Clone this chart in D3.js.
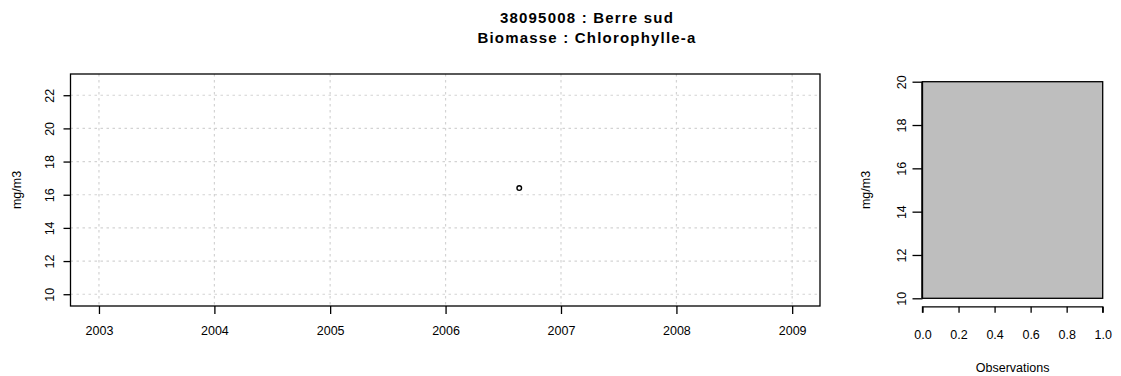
<!DOCTYPE html>
<html>
<head>
<meta charset="utf-8">
<script src="https://cdn.jsdelivr.net/npm/d3@7"></script>
<style>
  html, body { margin: 0; padding: 0; background: #fff; }
  svg { display: block; font-family: "Liberation Sans", Arial, sans-serif; }
</style>
</head>
<body>
<svg id="chart" width="1121" height="376"></svg>
<script>
// Station and parameter
const titleLines = ["38095008 : Berre sud", "Biomasse : Chlorophylle-a"];
const unitLabel = "mg/m3";

// Time series observations
const obsDates = ["2006-08-22"];
const obsValues = [16.4];

// Axis ticks
const yearTicks = [2003, 2004, 2005, 2006, 2007, 2008, 2009];
const seriesYTicks = [10, 12, 14, 16, 18, 20, 22];
const histYTicks = [10, 12, 14, 16, 18, 20];
const histXTicks = [0, 0.2, 0.4, 0.6, 0.8, 1.0];

// Side panel: observation frequency bar
const histBins = [{ lo: 10, hi: 20, frac: 1.0 }];

const FS = 12.5;
const svg = d3.select("#chart");
const parse = d3.timeParse("%Y-%m-%d");

// ---------- Title ----------
svg.selectAll("text.title").data(titleLines).join("text")
  .attr("class", "title")
  .attr("x", 587).attr("y", (d, i) => 23 + i * 20)
  .attr("text-anchor", "middle")
  .attr("font-size", 15).attr("font-weight", "bold")
  .attr("letter-spacing", 1.2)
  .text(d => d);

// ---------- Time series panel ----------
const L = { left: 70.5, right: 820, top: 74, bottom: 306 };
const x = d3.scaleTime()
  .domain([new Date(2002, 9, 3), new Date(2009, 2, 30)])
  .range([L.left, L.right]);
const y = d3.scaleLinear().domain([9.29, 23.28]).range([L.bottom, L.top]);

const grid = svg.append("g").attr("stroke", "#d3d3d3").attr("stroke-dasharray", "2.5,3.5").attr("stroke-width", 1.2);
grid.selectAll("line.v").data(yearTicks).join("line")
  .attr("x1", d => x(new Date(d, 0, 1))).attr("x2", d => x(new Date(d, 0, 1)))
  .attr("y1", L.top).attr("y2", L.bottom);
grid.selectAll("line.h").data(seriesYTicks).join("line")
  .attr("x1", L.left).attr("x2", L.right)
  .attr("y1", d => y(d)).attr("y2", d => y(d));

const xAxis = svg.append("g").attr("transform", `translate(0,${L.bottom})`)
  .call(d3.axisBottom(x).tickValues(yearTicks.map(d => new Date(d, 0, 1)))
    .tickFormat(d3.timeFormat("%Y")).tickSize(8).tickPadding(12.6));
xAxis.select(".domain").remove();

const yAxis = svg.append("g").attr("transform", `translate(${L.left},0)`)
  .call(d3.axisLeft(y).tickValues(seriesYTicks).tickSize(7).tickPadding(0));
yAxis.select(".domain").remove();

[xAxis, yAxis].forEach(a => {
  a.selectAll("line").attr("stroke", "#000").attr("stroke-width", 1.3);
  a.selectAll("text").attr("font-size", FS).attr("fill", "#000")
    .attr("font-family", "Liberation Sans, Arial, sans-serif");
});
yAxis.selectAll(".tick text")
  .attr("transform", "rotate(-90)")
  .attr("x", 0).attr("y", -21).attr("dy", "0.35em")
  .attr("text-anchor", "middle");

svg.append("rect")
  .attr("x", L.left).attr("y", L.top)
  .attr("width", L.right - L.left).attr("height", L.bottom - L.top)
  .attr("fill", "none").attr("stroke", "#000").attr("stroke-width", 1.3);

svg.append("text")
  .attr("transform", `translate(21,190) rotate(-90)`)
  .attr("text-anchor", "middle").attr("font-size", FS)
  .text(unitLabel);

svg.selectAll("circle.obs").data(obsDates.map((d, i) => ({ date: parse(d), v: obsValues[i] })))
  .join("circle").attr("class", "obs")
  .attr("cx", d => x(d.date)).attr("cy", d => y(d.v))
  .attr("r", 2.3).attr("fill", "none").attr("stroke", "#000").attr("stroke-width", 1.4);

// ---------- Distribution panel ----------
const R = { left: 922.5, right: 1102.7, top: 81.7, bottom: 298.3 };
const hx = d3.scaleLinear().domain([0, 1]).range([R.left, R.right]);
const hy = d3.scaleLinear().domain([10, 20]).range([R.bottom, R.top]);

svg.selectAll("rect.bin").data(histBins).join("rect").attr("class", "bin")
  .attr("x", hx(0)).attr("width", d => hx(d.frac) - hx(0))
  .attr("y", d => hy(d.hi)).attr("height", d => hy(d.lo) - hy(d.hi))
  .attr("fill", "#bebebe").attr("stroke", "#000").attr("stroke-width", 1.3);

const hxAxis = svg.append("g").attr("transform", `translate(0,${R.bottom + 8.5})`)
  .call(d3.axisBottom(hx).tickValues(histXTicks).tickFormat(d3.format(".1f"))
    .tickSize(6).tickPadding(17.8));
const hyAxis = svg.append("g").attr("transform", `translate(${R.left},0)`)
  .call(d3.axisLeft(hy).tickValues(histYTicks).tickSize(10).tickPadding(0));
hxAxis.select(".domain").attr("d", `M${hx(0)},6V0H${hx(1)}V6`);
hyAxis.select(".domain").attr("d", `M-0.6,${hy(10)}V${hy(20)}`);

[hxAxis, hyAxis].forEach(a => {
  a.selectAll("line, .domain").attr("stroke", "#000").attr("stroke-width", 1.3);
  a.selectAll("text").attr("font-size", FS).attr("fill", "#000")
    .attr("font-family", "Liberation Sans, Arial, sans-serif");
});
hyAxis.selectAll(".tick text")
  .attr("transform", "rotate(-90)")
  .attr("x", 0).attr("y", -21).attr("dy", "0.35em")
  .attr("text-anchor", "middle");

svg.append("text")
  .attr("transform", `translate(870,190) rotate(-90)`)
  .attr("text-anchor", "middle").attr("font-size", FS)
  .text(unitLabel);

svg.append("text")
  .attr("x", (R.left + R.right) / 2).attr("y", 371.5)
  .attr("text-anchor", "middle").attr("font-size", FS)
  .text("Observations");
</script>
</body>
</html>
